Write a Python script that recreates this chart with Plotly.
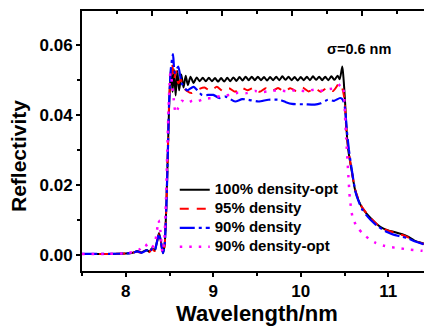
import plotly.graph_objects as go

# ---------------- data ----------------
wl_black = [7.50, 7.80, 8.00, 8.08, 8.13, 8.18, 8.24, 8.27, 8.30, 8.33, 8.355, 8.38, 8.40, 8.425, 8.445,
            8.465, 8.48, 8.495, 8.51, 8.52, 8.535, 8.55, 8.57, 8.59, 8.61, 8.635, 8.66, 8.685, 8.71, 8.74,
            8.775, 8.810, 8.845, 8.880, 8.915, 8.950, 8.985, 9.020, 9.055, 9.090, 9.125, 9.160, 9.195,
            9.230, 9.265, 9.300, 9.335, 9.370, 9.405, 9.440, 9.475, 9.510, 9.545, 9.580, 9.615, 9.650,
            9.685, 9.720, 9.755, 9.790, 9.825, 9.860, 9.895, 9.930, 9.965, 10.000, 10.035, 10.070,
            10.105, 10.140, 10.175, 10.210, 10.245, 10.280, 10.315, 10.350, 10.385, 10.420, 10.445,
            10.475, 10.49, 10.505, 10.525, 10.545, 10.58, 10.62, 10.66, 10.70, 10.75, 10.80, 10.87,
            10.94, 11.00, 11.08, 11.16, 11.22, 11.30, 11.40, 11.50]
r_black = [0.0002, 0.0002, 0.0003, 0.0005, 0.0010, 0.0006, 0.0013, 0.0008, 0.0018, 0.0012, 0.0035, 0.0062,
           0.0040, 0.0004, 0.0030, 0.0150, 0.0280, 0.0420, 0.0500, 0.0525, 0.0465, 0.0530, 0.0455, 0.0525,
           0.0470, 0.0515, 0.0478, 0.0512, 0.0485, 0.0509, 0.0491, 0.0507, 0.0496, 0.0506, 0.0496, 0.0506,
           0.0496, 0.0505, 0.0495, 0.0505, 0.0495, 0.0506, 0.0496, 0.0507, 0.0497, 0.0508, 0.0498, 0.0509,
           0.0499, 0.0509, 0.0499, 0.0509, 0.0499, 0.0508, 0.0498, 0.0508, 0.0499, 0.0509, 0.0499, 0.0510,
           0.0500, 0.0509, 0.0499, 0.0508, 0.0498, 0.0508, 0.0499, 0.0509, 0.0499, 0.0510, 0.0500, 0.0509,
           0.0499, 0.0509, 0.0499, 0.0510, 0.0500, 0.0512, 0.0502, 0.0538, 0.0500, 0.0443, 0.0350, 0.0295,
           0.0243, 0.0186, 0.0155, 0.0135, 0.0118, 0.0104, 0.0087, 0.0075, 0.0069, 0.0064, 0.0058, 0.0052,
           0.0040, 0.0032, 0.0026]

wl_red = [7.50, 7.80, 8.00, 8.08, 8.13, 8.18, 8.24, 8.27, 8.30, 8.33, 8.355, 8.38, 8.40, 8.425, 8.445,
          8.465, 8.48, 8.495, 8.51, 8.53, 8.55, 8.575, 8.60, 8.63, 8.66, 8.70, 8.75, 8.82, 8.90, 8.97,
          9.04, 9.11, 9.18, 9.25, 9.32, 9.39, 9.46, 9.53, 9.60, 9.67, 9.74, 9.81, 9.88, 9.95, 10.02,
          10.09, 10.16, 10.23, 10.30, 10.37, 10.44, 10.47, 10.50, 10.52, 10.545, 10.58, 10.62, 10.66,
          10.70, 10.75, 10.80, 10.87, 10.94, 11.00, 11.08, 11.16, 11.22, 11.30, 11.40, 11.50]
r_red = [0.0002, 0.0002, 0.0003, 0.0006, 0.0008, 0.0005, 0.0012, 0.0007, 0.0016, 0.0010, 0.0033, 0.0058,
         0.0038, 0.0003, 0.0028, 0.0150, 0.0290, 0.0430, 0.0510, 0.0548, 0.0500, 0.0525, 0.0490, 0.0500,
         0.0478, 0.0468, 0.0462, 0.0472, 0.0478, 0.0468, 0.0480, 0.0468, 0.0476, 0.0466, 0.0478, 0.0470,
         0.0477, 0.0466, 0.0476, 0.0467, 0.0477, 0.0466, 0.0476, 0.0468, 0.0478, 0.0467, 0.0476, 0.0466,
         0.0477, 0.0468, 0.0490, 0.0480, 0.0445, 0.0360, 0.0300, 0.0243, 0.0188, 0.0158, 0.0136, 0.0119,
         0.0104, 0.0087, 0.0075, 0.0068, 0.0062, 0.0056, 0.0050, 0.0039, 0.0031, 0.0025]

wl_blue = [7.50, 7.80, 8.00, 8.08, 8.13, 8.18, 8.24, 8.27, 8.30, 8.33, 8.355, 8.38, 8.40, 8.425, 8.445,
           8.465, 8.48, 8.495, 8.515, 8.54, 8.56, 8.60, 8.64, 8.70, 8.775, 8.87, 9.00, 9.07, 9.14, 9.25,
           9.33, 9.40, 9.52, 9.63, 9.76, 9.83, 9.90, 10.05, 10.16, 10.23, 10.31, 10.38, 10.45, 10.48,
           10.505, 10.525, 10.55, 10.585, 10.625, 10.665, 10.70, 10.75, 10.80, 10.87, 10.94, 11.00,
           11.06, 11.14, 11.22, 11.30, 11.40, 11.50]
r_blue = [0.0002, 0.0002, 0.0003, 0.0005, 0.0009, 0.0005, 0.0012, 0.0007, 0.0016, 0.0010, 0.0034, 0.0060,
          0.0039, 0.0004, 0.0030, 0.0145, 0.0280, 0.0430, 0.0530, 0.0574, 0.0520, 0.0538, 0.0490, 0.0470,
          0.0480, 0.0457, 0.0457, 0.0448, 0.0452, 0.0438, 0.0445, 0.0443, 0.0438, 0.0443, 0.0443, 0.0436,
          0.0431, 0.0430, 0.0429, 0.0433, 0.0443, 0.0440, 0.0448, 0.0443, 0.0420, 0.0360, 0.0300, 0.0240,
          0.0180, 0.0150, 0.0130, 0.0113, 0.0099, 0.0083, 0.0071, 0.0063, 0.0057, 0.0052, 0.0047, 0.0038,
          0.0030, 0.0024]

wl_mag = [7.50, 7.80, 8.00, 8.10, 8.16, 8.22, 8.27, 8.30, 8.33, 8.355, 8.375, 8.395, 8.42, 8.44, 8.46,
          8.475, 8.49, 8.51, 8.53, 8.55, 8.57, 8.60, 8.64, 8.70, 8.76, 8.81, 8.90, 9.00, 9.10, 9.19,
          9.28, 9.38, 9.48, 9.56, 9.65, 9.75, 9.85, 9.95, 10.05, 10.16, 10.25, 10.33, 10.40, 10.46,
          10.49, 10.505, 10.52, 10.54, 10.56, 10.59, 10.64, 10.71, 10.78, 10.86, 10.94, 11.01, 11.13,
          11.25, 11.38, 11.50]
r_mag = [0.0002, 0.0002, 0.0004, 0.0008, 0.0015, 0.0030, 0.0015, 0.0020, 0.0030, 0.0065, 0.0098, 0.0070,
         0.0006, 0.0040, 0.0160, 0.0300, 0.0424, 0.0520, 0.0490, 0.0440, 0.0405, 0.0420, 0.0440, 0.0433,
         0.0440, 0.0438, 0.0446, 0.0448, 0.0455, 0.0457, 0.0463, 0.0462, 0.0468, 0.0465, 0.0468, 0.0470,
         0.0467, 0.0471, 0.0468, 0.0472, 0.0469, 0.0474, 0.0476, 0.0488, 0.0470, 0.0400, 0.0330, 0.0245,
         0.0165, 0.0110, 0.0080, 0.0060, 0.0045, 0.0033, 0.0026, 0.0022, 0.0018, 0.0014, 0.0011, 0.0009]

series_names = ["100% density-opt", "95% density", "90% density", "90% density-opt"]
x_ticks = [8, 9, 10, 11]
y_ticks = [0.00, 0.02, 0.04, 0.06]
top_major = [8.3, 9.1, 9.9, 10.7]
top_minor = [7.9, 8.7, 9.5, 10.3, 11.1]
right_major = [0.0102, 0.0251, 0.0402, 0.0552]
right_minor = [0.0026, 0.0176, 0.0327, 0.0478, 0.0620]
annotation_text = "σ=0.6 nm"

# ---------------- figure ----------------
# The page body has an 8px default margin, so the figure is 8px smaller than the window
FONT = "Arial, Liberation Sans, Helvetica, sans-serif"

styles = [
    dict(color="black", width=2, dash="solid"),
    dict(color="#FF0000", width=2, dash="9px,8px"),
    dict(color="#0000FF", width=2.2, dash="15px,4px,3px,4px"),
    dict(color="#FF00FF", width=2.5, dash="2.5px,7px"),
]
data = [(wl_black, r_black), (wl_red, r_red), (wl_blue, r_blue), (wl_mag, r_mag)]

fig = go.Figure()
for (xs, ys), name, st in zip(data, series_names, styles):
    fig.add_trace(go.Scatter(
        x=xs, y=ys, mode="lines",
        name="<span style='font-size:15px'>" + name + "</span>",
        line=dict(color=st["color"], width=st["width"], dash=st["dash"], shape="spline", smoothing=0.6),
    ))

# empty helper traces so the secondary (tick-only) axes are drawn
fig.add_trace(go.Scatter(x=[], y=[], xaxis="x2", yaxis="y", showlegend=False, hoverinfo="skip"))
fig.add_trace(go.Scatter(x=[], y=[], xaxis="x", yaxis="y2", showlegend=False, hoverinfo="skip"))

xr = [7.5, 11.5]
yr = [-0.0047, 0.0697]

fig.update_layout(
    width=424, height=318,
    margin=dict(l=74, r=0, t=3, b=55),
    paper_bgcolor="white", plot_bgcolor="white",
    showlegend=True,
    legend=dict(x=0.265, y=0.368, xanchor="left", yanchor="top",
                bgcolor="rgba(0,0,0,0)", borderwidth=0,
                font=dict(family=FONT, size=10.7, weight="bold", color="black")),
    xaxis=dict(range=xr, tickvals=x_ticks, ticktext=[str(v) for v in x_ticks],
               ticks="outside", ticklen=4, tickwidth=2, tickcolor="black",
               minor=dict(dtick=0.5, tick0=7.5, ticks="outside", ticklen=3, tickwidth=2, tickcolor="black"),
               showline=True, linewidth=2, linecolor="black", showgrid=False, zeroline=False,
               tickfont=dict(family=FONT, size=17, weight="bold", color="black"),
               title=dict(text="Wavelength/nm", font=dict(family=FONT, size=22, weight="bold", color="black"),
                          standoff=2)),
    yaxis=dict(range=yr, tickvals=y_ticks, ticktext=["%.2f" % v for v in y_ticks],
               ticks="outside", ticklen=4, tickwidth=2, tickcolor="black",
               minor=dict(dtick=0.01, tick0=0, ticks="outside", ticklen=3, tickwidth=2, tickcolor="black"),
               showline=True, linewidth=2, linecolor="black", showgrid=False, zeroline=False,
               tickfont=dict(family=FONT, size=17, weight="bold", color="black")),
    xaxis2=dict(range=xr, overlaying="x", side="top", anchor="y", tickmode="array", tickvals=top_major,
                ticks="inside", ticklen=5, tickwidth=2, tickcolor="black", showticklabels=False,
                minor=dict(tickmode="array", tickvals=top_minor, ticks="inside", ticklen=3, tickwidth=2,
                           tickcolor="black"),
                showline=True, linewidth=2, linecolor="black", showgrid=False, zeroline=False),
    yaxis2=dict(range=yr, overlaying="y", side="right", anchor="x", tickmode="array", tickvals=right_major,
                ticks="inside", ticklen=5, tickwidth=2, tickcolor="black", showticklabels=False,
                minor=dict(tickmode="array", tickvals=right_minor, ticks="inside", ticklen=3, tickwidth=2,
                           tickcolor="black"),
                showline=False, showgrid=False, zeroline=False),
    annotations=[
        dict(text=annotation_text, x=10.278, y=0.0589, xref="x", yref="y", xanchor="left", yanchor="middle",
             showarrow=False, font=dict(family=FONT, size=14.5, weight="bold", color="black")),
        dict(text="Reflectivity", x=-0.183, y=0.442, xref="paper", yref="paper", xanchor="center",
             yanchor="middle", textangle=-90, showarrow=False,
             font=dict(family=FONT, size=21, weight="bold", color="black")),
    ],
)

fig.write_html("out.html")
